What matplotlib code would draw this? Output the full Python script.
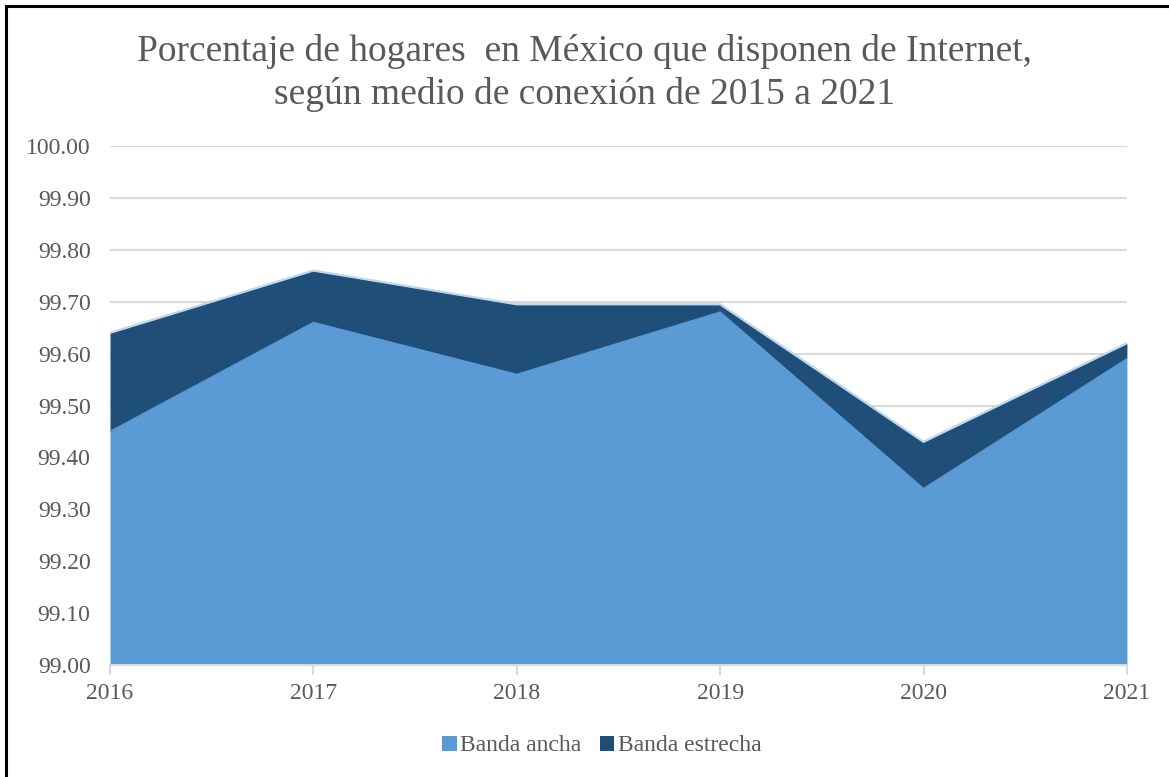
import numpy as np
import matplotlib.pyplot as plt
from matplotlib.patches import Rectangle, Patch

# Hogares con Internet por medio de conexión (%)
years = [2016, 2017, 2018, 2019, 2020, 2021]
banda_ancha = [99.45, 99.66, 99.56, 99.68, 99.34, 99.59]
banda_estrecha = [0.19, 0.10, 0.135, 0.015, 0.09, 0.03]

y_ticks = np.round(np.arange(99.0, 100.01, 0.1), 2)

c_ancha = '#5B9BD5'
c_estrecha = '#1F4E79'
c_grid = '#D9D9D9'
c_text = '#595959'

plt.rcParams['font.family'] = ['Liberation Serif', 'DejaVu Serif']

fig = plt.figure(figsize=(11.69, 7.77), dpi=100)
ax = fig.add_axes([0.0941, 0.1441, 0.8699, 0.6680])

x = np.array(years)
ancha = np.array(banda_ancha)
total = ancha + np.array(banda_estrecha)

ax.fill_between(x, 99.0, ancha, color=c_ancha, linewidth=0, zorder=2)
ax.fill_between(x, ancha, total, color=c_estrecha, linewidth=0, zorder=2)
# pale outline along the top of each series
ax.plot(x, ancha, color=c_ancha, linewidth=1.0, zorder=3)
ax.plot(x, total, color='#BDD7EE', linewidth=1.6, zorder=3)

ax.set_xlim(years[0], years[-1])
ax.set_ylim(99.0, 100.0)
ax.set_yticks(y_ticks)
ax.set_yticklabels([f'{v:.2f}' for v in y_ticks])
ax.set_xticks(years)
ax.set_xticklabels([str(y) for y in years])

ax.grid(axis='y', color=c_grid, linewidth=1.5, zorder=1)
ax.set_axisbelow(True)
for side in ['left', 'right', 'top']:
    ax.spines[side].set_visible(False)
ax.spines['bottom'].set_color(c_grid)
ax.spines['bottom'].set_linewidth(1.5)
ax.spines['bottom'].set_zorder(4)

ax.tick_params(axis='y', length=0, pad=14, labelsize=17, labelcolor=c_text)
ax.tick_params(axis='x', length=7, width=1.5, color=c_grid, pad=6,
               labelsize=17, labelcolor=c_text)

fig.text(0.5, 0.906, 'Porcentaje de hogares  en México que disponen de Internet,\n'
         'según medio de conexión de 2015 a 2021',
         ha='center', va='center', fontsize=27, color=c_text, linespacing=1.3)

handles = [Patch(facecolor=c_ancha, label='Banda ancha'),
           Patch(facecolor=c_estrecha, label='Banda estrecha')]
fig.legend(handles=handles, loc='center', bbox_to_anchor=(0.515, 0.040), ncol=2,
           frameon=False, fontsize=17, handlelength=0.6, handleheight=0.6,
           handletextpad=0.15, columnspacing=0.8, labelcolor=c_text)

# outer frame
fig.patches.append(Rectangle((6 / 1169, -0.01), 1.02, 1 - 6 / 777 + 0.01,
                             transform=fig.transFigure, fill=False,
                             edgecolor='black', linewidth=2.2))

fig.savefig('out.png', dpi=100)
